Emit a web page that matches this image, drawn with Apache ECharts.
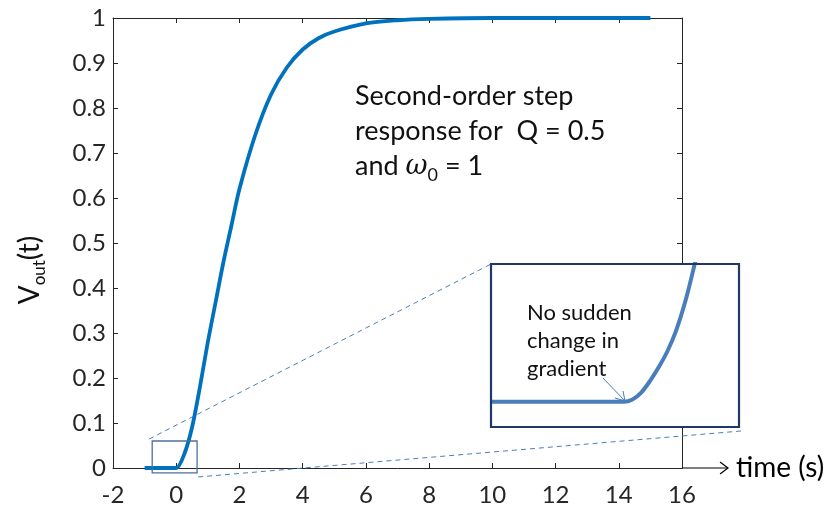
<!DOCTYPE html>
<html>
<head>
<meta charset="utf-8">
<script src="https://cdn.jsdelivr.net/npm/echarts@6/dist/echarts.min.js"></script>
<style>
  html, body { margin: 0; padding: 0; background: #fff; }
  #chart { width: 832px; height: 507px; }
</style>
</head>
<body>
<div id="chart"></div>
<script>
// step response
var timeS = [-1, -0.25, 0, 0.25, 0.5, 0.75, 1, 1.25, 1.5, 1.75, 2, 2.5, 3, 3.5, 4, 4.5, 5, 6, 7, 8, 10, 12, 15];
var vout = [0, 0, 0, 0.03, 0.09, 0.18, 0.28, 0.37, 0.46, 0.54, 0.62, 0.74, 0.83, 0.89, 0.93, 0.955, 0.97, 0.988, 0.995, 0.998, 1, 1, 1];

// magnified part shown in the inset
var insetTime = [-0.76, -0.1, 0, 0.05, 0.1, 0.15, 0.2, 0.25, 0.3, 0.35, 0.4, 0.45];
var insetVout = [0, 0, 0, 0.001, 0.004, 0.009, 0.015, 0.022, 0.031, 0.043, 0.058, 0.075];

// zoom window (time, volts)
var zoomT = [-0.76, 0.66];
var zoomV = [-0.011, 0.06];

var xTicks = [-2, 0, 2, 4, 6, 8, 10, 12, 14, 16];
var yTicks = [0, 0.1, 0.2, 0.3, 0.4, 0.5, 0.6, 0.7, 0.8, 0.9, 1];

var axisColor = "#262626";
var fontName = "Lato, 'Open Sans', sans-serif";

var chart = echarts.init(document.getElementById("chart"));

var boxAxis = {
  axisLine: { show: true, onZero: false, lineStyle: { color: axisColor, width: 1 } },
  axisTick: { show: true, inside: true, length: 5, lineStyle: { color: axisColor } },
  splitLine: { show: false },
};

var option = {
  animation: false,
  grid: [
    { left: 113, top: 18, right: 150, bottom: 39 },
    { left: 491, top: 264, width: 248, height: 163 },
  ],
  xAxis: [
    Object.assign({
      type: "value", gridIndex: 0, position: "bottom",
      min: xTicks[0], max: xTicks[xTicks.length - 1], interval: 2,
      axisLabel: { color: axisColor, fontSize: 24, fontFamily: fontName, margin: 15 },
    }, boxAxis),
    Object.assign({
      type: "value", gridIndex: 0, position: "top",
      min: xTicks[0], max: xTicks[xTicks.length - 1], interval: 2,
      axisLabel: { show: false },
    }, boxAxis),
    {
      type: "value", gridIndex: 1, min: zoomT[0], max: zoomT[1], show: false,
    },
  ],
  yAxis: [
    Object.assign({
      type: "value", gridIndex: 0, position: "left",
      min: yTicks[0], max: yTicks[yTicks.length - 1], interval: 0.1,
      axisLabel: {
        color: axisColor, fontSize: 24, fontFamily: fontName, margin: 7,
        formatter: function (v) { return String(Math.round(v * 10) / 10); },
      },
    }, boxAxis),
    Object.assign({
      type: "value", gridIndex: 0, position: "right",
      min: yTicks[0], max: yTicks[yTicks.length - 1], interval: 0.1,
      axisLabel: { show: false },
    }, boxAxis),
    {
      type: "value", gridIndex: 1, min: zoomV[0], max: zoomV[1], show: false,
    },
  ],
  series: [
    {
      type: "line",
      xAxisIndex: 0,
      yAxisIndex: 0,
      data: timeS.map(function (t, i) { return [t, vout[i]]; }),
      showSymbol: false,
      smooth: 0.3,
      lineStyle: { color: "#0072BD", width: 3.8 },
      z: 3,
    },
    {
      type: "line",
      xAxisIndex: 2,
      yAxisIndex: 2,
      data: insetTime.map(function (t, i) { return [t, insetVout[i]]; }),
      showSymbol: false,
      smooth: 0.3,
      clip: true,
      lineStyle: { color: "#4A7EBB", width: 4 },
      z: 5,
    },
  ],
};

chart.setOption(option);

// annotations placed from the axes
var rTL = chart.convertToPixel({ gridIndex: 0 }, [zoomT[0], zoomV[1]]);
var rBR = chart.convertToPixel({ gridIndex: 0 }, [zoomT[1], zoomV[0]]);
var iTL = chart.convertToPixel({ gridIndex: 1 }, [zoomT[0], zoomV[1]]);
var iBR = chart.convertToPixel({ gridIndex: 1 }, [zoomT[1], zoomV[0]]);
var axisEnd = chart.convertToPixel({ gridIndex: 0 }, [16, 0]);
var dashColor = "#4A7EBB";

chart.setOption({
  graphic: [
    // small zoom box on the main plot
    {
      type: "rect", z: 4,
      shape: { x: rTL[0], y: rTL[1], width: rBR[0] - rTL[0], height: rBR[1] - rTL[1] },
      style: { fill: "none", stroke: "#4F6F9F", lineWidth: 1.3 },
    },
    {
      type: "line", z: 4,
      shape: { x1: rTL[0] - 3, y1: rTL[1] - 2, x2: iTL[0], y2: iTL[1] },
      style: { stroke: dashColor, lineWidth: 1, lineDash: [5, 4] },
    },
    {
      type: "line", z: 4,
      shape: { x1: rBR[0] + 1, y1: rBR[1] + 4, x2: iBR[0] + 2, y2: iBR[1] + 4 },
      style: { stroke: dashColor, lineWidth: 1, lineDash: [5, 4] },
    },
    // inset panel
    {
      type: "rect", z: 4,
      shape: { x: iTL[0], y: iTL[1], width: iBR[0] - iTL[0], height: iBR[1] - iTL[1] },
      style: { fill: "#fff", stroke: "none" },
    },
    {
      type: "rect", z: 6,
      shape: { x: iTL[0], y: iTL[1], width: iBR[0] - iTL[0], height: iBR[1] - iTL[1] },
      style: { fill: "none", stroke: "#1F3864", lineWidth: 2.2 },
    },
    {
      type: "text", z: 6, x: iTL[0] + 36, y: iTL[1] + 35,
      style: {
        text: "No sudden\nchange in\ngradient",
        fontSize: 22, fontFamily: fontName, fill: "#111", lineHeight: 28,
      },
    },
    {
      type: "line", z: 6,
      shape: { x1: 603, y1: 378, x2: 625, y2: 401 },
      style: { stroke: dashColor, lineWidth: 1 },
    },
    {
      type: "polyline", z: 6,
      shape: { points: [[615, 398], [625, 401], [623, 391]] },
      style: { stroke: dashColor, lineWidth: 1, fill: "none" },
    },
    // time arrow
    {
      type: "line", z: 4,
      shape: { x1: axisEnd[0], y1: axisEnd[1], x2: axisEnd[0] + 46, y2: axisEnd[1] },
      style: { stroke: "#000", lineWidth: 1.2 },
    },
    {
      type: "polyline", z: 4,
      shape: { points: [[axisEnd[0] + 38, axisEnd[1] - 6], [axisEnd[0] + 46, axisEnd[1]], [axisEnd[0] + 38, axisEnd[1] + 6]] },
      style: { stroke: "#000", lineWidth: 1.2, fill: "none" },
    },
    {
      type: "text", z: 4, x: axisEnd[0] + 54, y: axisEnd[1],
      style: {
        text: "time (s)", fontSize: 28, fontFamily: fontName, fill: "#000",
        verticalAlign: "middle",
      },
    },
    // description
    {
      type: "text", z: 4, x: 355, y: 79,
      style: {
        text: "{a|Second-order step}\n{a|response for  Q = 0.5}\n{a|and }{w|ω}{s|0}{a| = 1}",
        fontFamily: fontName, fill: "#111",
        rich: {
          a: { fontSize: 27, fontFamily: fontName, lineHeight: 35, fill: "#111" },
          w: { fontSize: 27, fontFamily: "'DejaVu Serif', serif", fontStyle: "italic", lineHeight: 35, fill: "#111" },
          s: { fontSize: 18, fontFamily: fontName, lineHeight: 35, padding: [14, 0, 0, 0], verticalAlign: "bottom", fill: "#111" },
        },
      },
    },
    // y axis name
    {
      type: "text", z: 4, x: 30, y: 270, rotation: Math.PI / 2,
      style: {
        text: "{v|V}{s|out}{v|(t)}",
        align: "center", verticalAlign: "middle",
        rich: {
          v: { fontSize: 28, fontFamily: fontName, lineHeight: 36, fill: "#111" },
          s: { fontSize: 17, fontFamily: fontName, lineHeight: 36, padding: [14, 0, 0, 0], verticalAlign: "bottom", fill: "#111" },
        },
      },
    },
  ],
});
</script>
</body>
</html>
